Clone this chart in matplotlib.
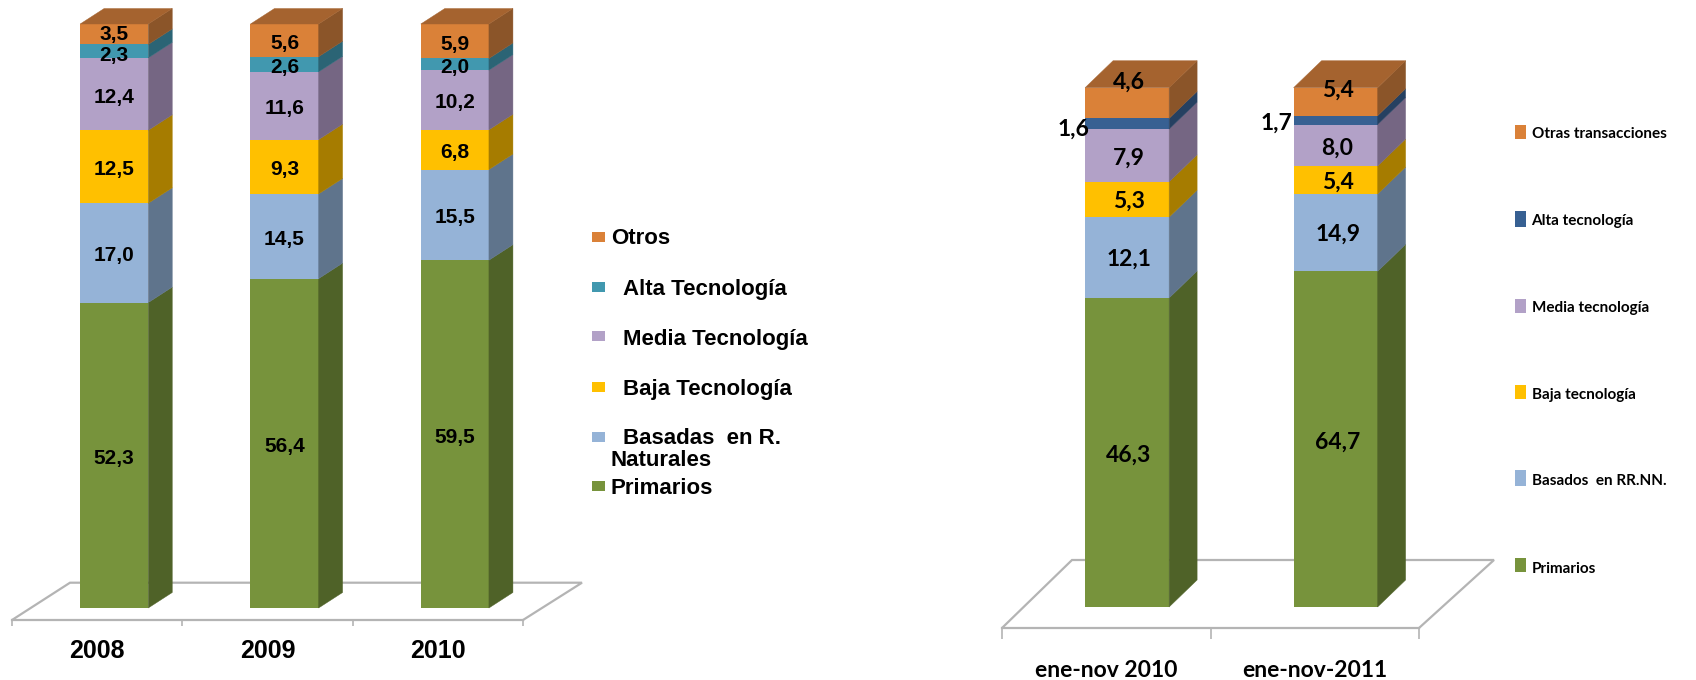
import matplotlib
matplotlib.use("Agg")
import matplotlib.pyplot as plt
from matplotlib.patches import Polygon, Rectangle

W, H = 1696, 680

# ---- data ----
left_years = ["2008", "2009", "2010"]
left_primarios = [52.3, 56.4, 59.5]
left_rrnn = [17.0, 14.5, 15.5]
left_baja = [12.5, 9.3, 6.8]
left_media = [12.4, 11.6, 10.2]
left_alta = [2.3, 2.6, 2.0]
left_otros = [3.5, 5.6, 5.9]

right_periods = ["ene-nov 2010", "ene-nov-2011"]
right_primarios = [46.3, 64.7]
right_rrnn = [12.1, 14.9]
right_baja = [5.3, 5.4]
right_media = [7.9, 8.0]
right_alta = [1.6, 1.7]
right_otros = [4.6, 5.4]

left_legend = ["Otros", "Alta Tecnología", "Media Tecnología", "Baja Tecnología",
               "Basadas  en R.", "Naturales", "Primarios"]
right_legend = ["Otras transacciones", "Alta tecnología", "Media tecnología",
                "Baja tecnología", "Basados  en RR.NN.", "Primarios"]

# ---- styles ----
GREEN = ("#77933C", "#4F6228")
LBLUE = ("#95B3D7", "#5F748C")
YELLOW = ("#FFC000", "#A67C00")
PURPLE = ("#B2A1C7", "#756683")
TEAL = ("#4198AF", "#2B6475")
NAVY = ("#376092", "#254061")
ORANGE = ("#DA8138", "#8B5529")
TOP = "#A5632F"
FLOOR = "#B4B4B4"

ARIAL = "Liberation Sans"
NARROW = "Lato"

fig = plt.figure(figsize=(W / 100, H / 100), dpi=100, facecolor="white")


def px_axes(x0, x1, y_top, y_bot):
    return fig.add_axes([x0 / W, 1 - y_bot / H, (x1 - x0) / W, (y_bot - y_top) / H])


def chart(ax, cats, series, colors, bar_w, shift, dx_px, dy_px, floor_front, floor_back,
          floor_dxl, floor_dxr, font, lab_size, tick_size, tick_pad, offsets):
    n = len(cats)
    pos = ax.get_position()
    ux = pos.width * W / n          # px per x unit
    uy = pos.height * H / 100       # px per y unit
    dx, dy = dx_px / ux, dy_px / uy
    ax.set_xlim(-0.5, n - 0.5)
    ax.set_ylim(0, 100)
    ax.patch.set_alpha(0)

    # floor
    yf, yb = -floor_front / uy, floor_back / uy
    xl, xr = -0.5, n - 0.5
    ax.add_patch(Polygon([(xl, yf), (xl + floor_dxl / ux, yb), (xr + floor_dxr / ux, yb), (xr, yf)],
                         closed=False, fill=False, edgecolor=FLOOR, lw=1.6, clip_on=False, zorder=1))
    # axis line and tick marks
    for s in ("top", "left", "right"):
        ax.spines[s].set_visible(False)
    ax.spines["bottom"].set_position(("outward", floor_front * 0.72))
    ax.spines["bottom"].set_color(FLOOR)
    ax.spines["bottom"].set_linewidth(1.6)
    ax.set_yticks([])
    ax.set_xticks([i - 0.5 for i in range(n + 1)])
    ax.set_xticklabels([])
    ax.set_xticks(range(n), minor=True)
    ax.set_xticklabels(cats, minor=True, fontfamily=font, fontweight="bold", fontsize=tick_size)
    ax.tick_params(axis="x", which="major", length=6 * 0.72 * (1 if floor_front < 15 else 1.8),
                   width=1.2, color=FLOOR)
    ax.tick_params(axis="x", which="minor", length=0, pad=tick_pad)

    for i in range(n):
        total = sum(s[i] for s in series)
        c = i + shift
        a, b = c - bar_w / 2, c + bar_w / 2
        base = 0.0
        for k, s in enumerate(series):
            h = s[i] / total * 100
            ax.bar(c, h, bar_w, bottom=base, color=colors[k][0], linewidth=0, zorder=3)
            ax.add_patch(Polygon([(b, base), (b + dx, base + dy), (b + dx, base + h + dy), (b, base + h)],
                                 facecolor=colors[k][1], edgecolor=colors[k][1], lw=0.3, clip_on=False, zorder=3))
            ox, oy = offsets[k][i]
            ax.annotate(f"{s[i]:.1f}".replace(".", ","), (c, base + h / 2), xytext=(ox * 0.72, -oy * 0.72),
                        textcoords="offset points", ha="center", va="center", family=font,
                        fontweight="bold", fontsize=lab_size, color="black", zorder=5,
                        annotation_clip=False)
            base += h
        ax.add_patch(Polygon([(a, 100), (b, 100), (b + dx, 100 + dy), (a + dx, 100 + dy)],
                             facecolor=TOP, edgecolor=TOP, lw=0.3, clip_on=False, zorder=3))


# left chart
axL = px_axes(12, 523, 24, 608)
colsL = [GREEN, LBLUE, YELLOW, PURPLE, TEAL, ORANGE]
offL = [[(0, 3)] * 3, [(0, 3)] * 3, [(0, 3)] * 3, [(0, 3)] * 3,
        [(0, 4), (0, 3), (0, 3)], [(0, 0), (0, 3), (0, 3)]]
chart(axL, left_years, [left_primarios, left_rrnn, left_baja, left_media, left_alta, left_otros],
      colsL, 0.40, 0.10, 24, 15.5, 12, 25.3, 58, 59, ARIAL, 15, 18, 14, offL)

# right chart
axR = px_axes(1002, 1419, 87.7, 607)
colsR = [GREEN, LBLUE, YELLOW, PURPLE, NAVY, ORANGE]
offR = [[(2, 3), (2, 3)], [(2, 2), (2, 2)], [(2, 2), (2, 2)], [(2, 3), (2, 3)],
        [(-54, 5), (-59, 3)], [(2, -21), (2, -12)]]
chart(axR, right_periods, [right_primarios, right_rrnn, right_baja, right_media, right_alta, right_otros],
      colsR, 0.403, 0.10, 28, 27, 21, 47, 70, 75, NARROW, 16.5, 16.5, 23, offR)


# legends
def legend_item(box, color, tx, ty, label, font, size):
    x, y0, w, h = box
    if color:
        fig.add_artist(Rectangle((x / W, 1 - (y0 + h) / H), w / W, h / H, transform=fig.transFigure,
                                 facecolor=color, edgecolor="none"))
    fig.text(tx / W, 1 - ty / H, label, family=font, fontweight="bold", fontsize=size,
             ha="left", va="center", color="black")


L = [(232, ORANGE[0], 611, 239), (282, TEAL[0], 623, 289), (331, PURPLE[0], 623, 340),
     (382, YELLOW[0], 623, 390), (432, LBLUE[0], 623, 439), (None, None, 611, 460), (481, GREEN[0], 611, 488)]
for (y, col, tx, ty), lab in zip(L, left_legend):
    legend_item((592, y or 0, 13, 10), col, tx, ty, lab, ARIAL, 16)

R = [(125, 14, ORANGE[0], 134), (211, 16, NAVY[0], 221), (299, 14, PURPLE[0], 308),
     (385, 14, YELLOW[0], 395), (470, 16, LBLUE[0], 481), (558, 14, GREEN[0], 569)]
for (y, h, col, ty), lab in zip(R, right_legend):
    legend_item((1515, y, 11, h), col, 1531.5, ty, lab, NARROW, 11)

fig.savefig("out.png", dpi=100, facecolor="white")
